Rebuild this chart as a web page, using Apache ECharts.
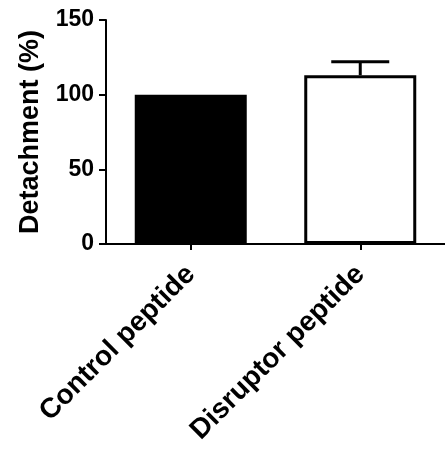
<!DOCTYPE html>
<html>
<head>
<meta charset="utf-8">
<script src="https://cdn.jsdelivr.net/npm/echarts@6/dist/echarts.min.js"></script>
<style>html,body{margin:0;padding:0;background:#fff}#c{width:445px;height:450px}</style>
</head>
<body>
<div id="c"></div>
<script>
const categories = ['Control peptide', 'Disruptor peptide'];
const means = [100, 113];
const errUpper = [100, 122];
const yTicks = [0, 50, 100, 150];
const yTitle = 'Detachment (%)';

const chart = echarts.init(document.getElementById('c'), null, {renderer: 'canvas'});
const font = '"Liberation Sans", Arial, Helvetica, sans-serif';
chart.setOption({
  animation: false,
  backgroundColor: '#fff',
  grid: {left: 106, top: 20, width: 342, height: 224, containLabel: false},
  xAxis: {
    type: 'category',
    data: categories,
    axisLine: {lineStyle: {color: '#000', width: 2}},
    axisTick: {show: true, alignWithLabel: true, length: 6, lineStyle: {color: '#000', width: 2}},
    axisLabel: {rotate: 45, margin: 26, color: '#000', fontSize: 28, fontWeight: 'bold', fontFamily: font, interval: 0}
  },
  yAxis: {
    type: 'value',
    min: yTicks[0], max: yTicks[yTicks.length - 1], interval: 50,
    name: yTitle,
    nameLocation: 'middle',
    nameGap: 62,
    nameTextStyle: {color: '#000', fontSize: 27, fontWeight: 'bold', fontFamily: font},
    splitLine: {show: false},
    axisLine: {show: true, lineStyle: {color: '#000', width: 2}},
    axisTick: {show: true, length: 7, lineStyle: {color: '#000', width: 2}},
    axisLabel: {color: '#000', fontSize: 23, fontWeight: 'bold', fontFamily: font, margin: 12}
  },
  series: [
    {
      type: 'bar',
      barWidth: 112,
      data: means.map((v, i) => i === 0
        ? {value: v, itemStyle: {color: '#000', borderColor: '#000', borderWidth: 0}}
        : {value: v, itemStyle: {color: '#fff', borderColor: '#000', borderWidth: 3}}),
      z: 2
    },
    {
      type: 'custom',
      z: 3,
      data: means.map((m, i) => [i, m, errUpper[i]]).filter(d => d[2] > d[1]),
      renderItem: function (params, api) {
        const base = api.coord([api.value(0), api.value(1)]);
        const top = api.coord([api.value(0), api.value(2)]);
        const hw = 29;
        return {
          type: 'group',
          children: [
            {type: 'line', shape: {x1: base[0], y1: base[1], x2: top[0], y2: top[1]}, style: {stroke: '#000', lineWidth: 3}},
            {type: 'line', shape: {x1: top[0] - hw, y1: top[1], x2: top[0] + hw, y2: top[1]}, style: {stroke: '#000', lineWidth: 3}}
          ]
        };
      }
    }
  ]
});
</script>
</body>
</html>
